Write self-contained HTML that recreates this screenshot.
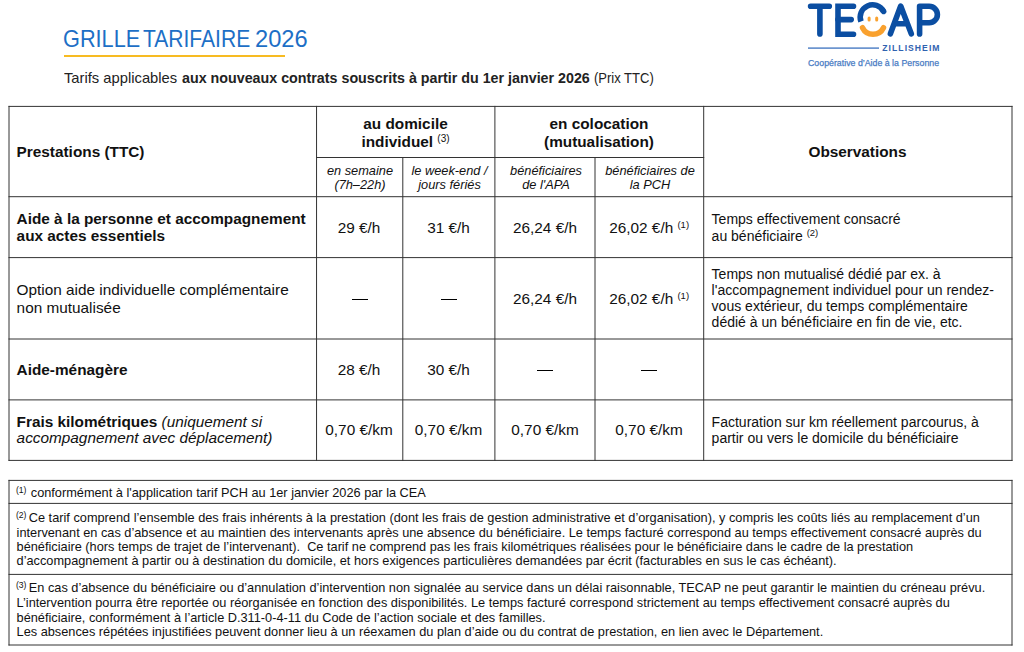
<!DOCTYPE html>
<html><head><meta charset="utf-8"><title>Grille tarifaire 2026</title>
<style>
html,body{margin:0;padding:0;background:#fff;}
body{width:1024px;height:652px;position:relative;overflow:hidden;font-family:"Liberation Sans",sans-serif;color:#111;}
.t{position:absolute;white-space:nowrap;}
.l{position:absolute;}
.b{font-weight:bold;}
.i{font-style:italic;}
.title{color:#1d6fc6;}
.sub{color:#222;}
sup{font-size:9.5px;vertical-align:0;position:relative;top:-5px;line-height:0;}
sup.fs{font-size:8.6px;top:-4px;margin-left:-0.7px;margin-right:-1.2px;}
</style></head><body>
<div class="t title" style="left:62.69px;top:27.00px;font-size:24.3px;line-height:24.3px;transform:scaleX(0.893);transform-origin:0 0;">GRILLE</div>
<div class="t title" style="left:143.38px;top:27.00px;font-size:24.3px;line-height:24.3px;transform:scaleX(0.866);transform-origin:0 0;">TARIFAIRE</div>
<div class="t title" style="left:255.19px;top:27.00px;font-size:24.3px;line-height:24.3px;transform:scaleX(0.975);transform-origin:0 0;">2026</div>
<div class="l" style="left:63.6px;top:54.5px;width:221.7px;height:2px;background:#f7bb22"></div>
<div class="t sub" style="left:64.10px;top:71.00px;font-size:14.4px;line-height:14.4px;transform:scaleX(1.025);transform-origin:0 0;">Tarifs applicables</div>
<div class="t sub b" style="left:181.70px;top:71.00px;font-size:14.4px;line-height:14.4px;transform:scaleX(0.992);transform-origin:0 0;">aux nouveaux contrats souscrits à partir du 1er janvier 2026</div>
<div class="t sub" style="left:594.40px;top:71.00px;font-size:14.4px;line-height:14.4px;transform:scaleX(0.904);transform-origin:0 0;">(Prix TTC)</div>
<svg width="1024" height="652" style="position:absolute;left:0;top:0" stroke="#333" stroke-width="1" fill="none"><line x1="8.5" y1="106.4" x2="1012.5" y2="106.4"/><line x1="8.5" y1="196.7" x2="1012.5" y2="196.7"/><line x1="8.5" y1="257.6" x2="1012.5" y2="257.6"/><line x1="8.5" y1="339.0" x2="1012.5" y2="339.0"/><line x1="8.5" y1="399.9" x2="1012.5" y2="399.9"/><line x1="8.5" y1="460.4" x2="1012.5" y2="460.4"/><line x1="316.05" y1="157.5" x2="704.2" y2="157.5"/><line x1="9.0" y1="105.9" x2="9.0" y2="460.9"/><line x1="316.55" y1="105.9" x2="316.55" y2="460.9"/><line x1="494.9" y1="105.9" x2="494.9" y2="460.9"/><line x1="703.7" y1="105.9" x2="703.7" y2="460.9"/><line x1="1012.0" y1="105.9" x2="1012.0" y2="460.9"/><line x1="402.8" y1="157.0" x2="402.8" y2="460.9"/><line x1="595.0" y1="157.0" x2="595.0" y2="460.9"/><line x1="8.5" y1="480.4" x2="1012.5" y2="480.4"/><line x1="8.5" y1="503.4" x2="1012.5" y2="503.4"/><line x1="8.5" y1="574.4" x2="1012.5" y2="574.4"/><line x1="8.5" y1="645.0" x2="1012.5" y2="645.0"/><line x1="9.0" y1="479.9" x2="9.0" y2="645.5"/><line x1="1012.0" y1="479.9" x2="1012.0" y2="645.5"/></svg>
<div class="t b" style="left:16.60px;top:144.00px;font-size:15.35px;line-height:15.35px;">Prestations (TTC)</div>
<div class="t b" style="left:316.00px;top:116.00px;font-size:15.35px;line-height:15.35px;width:179.00px;text-align:center;">au domicile</div>
<div class="t b" style="left:316.00px;top:134.00px;font-size:15.35px;line-height:15.35px;width:179.00px;text-align:center;">individuel <sup style="font-weight:normal;font-size:10px">(3)</sup></div>
<div class="t b" style="left:495.00px;top:116.00px;font-size:15.35px;line-height:15.35px;width:208.00px;text-align:center;">en colocation</div>
<div class="t b" style="left:495.00px;top:134.00px;font-size:15.35px;line-height:15.35px;width:208.00px;text-align:center;">(mutualisation)</div>
<div class="t b" style="left:703.00px;top:144.00px;font-size:15.35px;line-height:15.35px;width:309.00px;text-align:center;">Observations</div>
<div class="t i" style="left:317.00px;top:165.00px;font-size:12.8px;line-height:12.8px;width:86.00px;text-align:center;">en semaine</div>
<div class="t i" style="left:317.00px;top:179.00px;font-size:12.8px;line-height:12.8px;width:86.00px;text-align:center;">(7h–22h)</div>
<div class="t i" style="left:403.00px;top:165.00px;font-size:12.8px;line-height:12.8px;width:93.00px;text-align:center;">le week-end /</div>
<div class="t i" style="left:403.00px;top:179.00px;font-size:12.8px;line-height:12.8px;width:93.00px;text-align:center;">jours fériés</div>
<div class="t i" style="left:496.00px;top:165.00px;font-size:12.8px;line-height:12.8px;width:100.00px;text-align:center;">bénéficiaires</div>
<div class="t i" style="left:496.00px;top:179.00px;font-size:12.8px;line-height:12.8px;width:100.00px;text-align:center;">de l'APA</div>
<div class="t i" style="left:596.00px;top:165.00px;font-size:12.8px;line-height:12.8px;width:108.00px;text-align:center;">bénéficiaires de</div>
<div class="t i" style="left:596.00px;top:179.00px;font-size:12.8px;line-height:12.8px;width:108.00px;text-align:center;">la PCH</div>
<div class="t b" style="left:16.60px;top:211.00px;font-size:15.35px;line-height:15.35px;">Aide à la personne et accompagnement</div>
<div class="t b" style="left:16.60px;top:228.00px;font-size:15.35px;line-height:15.35px;">aux actes essentiels</div>
<div class="t " style="left:316.00px;top:220.00px;font-size:15.35px;line-height:15.35px;width:86.00px;text-align:center;">29 €/h</div>
<div class="t " style="left:402.00px;top:220.00px;font-size:15.35px;line-height:15.35px;width:93.00px;text-align:center;">31 €/h</div>
<div class="t " style="left:495.00px;top:220.00px;font-size:15.35px;line-height:15.35px;width:100.00px;text-align:center;">26,24 €/h</div>
<div class="t " style="left:609.20px;top:220.00px;font-size:15.35px;line-height:15.35px;">26,02 €/h <sup>(1)</sup></div>
<div class="t " style="left:711.60px;top:212.00px;font-size:14.03px;line-height:14.03px;">Temps effectivement consacré</div>
<div class="t " style="left:711.60px;top:229.00px;font-size:14.03px;line-height:14.03px;">au bénéficiaire <sup>(2)</sup></div>
<div class="t " style="left:16.60px;top:282.00px;font-size:15.35px;line-height:15.35px;">Option aide individuelle complémentaire</div>
<div class="t " style="left:16.60px;top:300.00px;font-size:15.35px;line-height:15.35px;">non mutualisée</div>
<div class="l" style="left:351.70px;top:298.60px;width:16px;height:1.7px;background:#000"></div>
<div class="l" style="left:440.85px;top:298.60px;width:16px;height:1.7px;background:#000"></div>
<div class="t " style="left:495.00px;top:291.00px;font-size:15.35px;line-height:15.35px;width:100.00px;text-align:center;">26,24 €/h</div>
<div class="t " style="left:609.20px;top:291.00px;font-size:15.35px;line-height:15.35px;">26,02 €/h <sup>(1)</sup></div>
<div class="t " style="left:711.60px;top:267.00px;font-size:14.03px;line-height:14.03px;">Temps non mutualisé dédié par ex. à</div>
<div class="t " style="left:711.60px;top:283.00px;font-size:14.03px;line-height:14.03px;">l'accompagnement individuel pour un rendez-</div>
<div class="t " style="left:711.60px;top:299.00px;font-size:14.03px;line-height:14.03px;">vous extérieur, du temps complémentaire</div>
<div class="t " style="left:711.60px;top:315.00px;font-size:14.03px;line-height:14.03px;">dédié à un bénéficiaire en fin de vie, etc.</div>
<div class="t b" style="left:16.60px;top:362.00px;font-size:15.35px;line-height:15.35px;">Aide-ménagère</div>
<div class="t " style="left:316.00px;top:362.00px;font-size:15.35px;line-height:15.35px;width:86.00px;text-align:center;">28 €/h</div>
<div class="t " style="left:402.00px;top:362.00px;font-size:15.35px;line-height:15.35px;width:93.00px;text-align:center;">30 €/h</div>
<div class="l" style="left:536.95px;top:369.55px;width:16px;height:1.7px;background:#000"></div>
<div class="l" style="left:641.35px;top:369.55px;width:16px;height:1.7px;background:#000"></div>
<div class="t " style="left:16.60px;top:414.00px;font-size:15.35px;line-height:15.35px;"><b>Frais kilométriques</b> <i>(uniquement si</i></div>
<div class="t " style="left:16.60px;top:430.00px;font-size:15.35px;line-height:15.35px;"><i>accompagnement avec déplacement)</i></div>
<div class="t " style="left:316.00px;top:422.00px;font-size:15.35px;line-height:15.35px;width:86.00px;text-align:center;">0,70 €/km</div>
<div class="t " style="left:402.00px;top:422.00px;font-size:15.35px;line-height:15.35px;width:93.00px;text-align:center;">0,70 €/km</div>
<div class="t " style="left:495.00px;top:422.00px;font-size:15.35px;line-height:15.35px;width:100.00px;text-align:center;">0,70 €/km</div>
<div class="t " style="left:595.00px;top:422.00px;font-size:15.35px;line-height:15.35px;width:108.00px;text-align:center;">0,70 €/km</div>
<div class="t " style="left:711.60px;top:415.00px;font-size:14.03px;line-height:14.03px;">Facturation sur km réellement parcourus, à</div>
<div class="t " style="left:711.60px;top:431.00px;font-size:14.03px;line-height:14.03px;">partir ou vers le domicile du bénéficiaire</div>
<div class="t " style="left:16.60px;top:487.00px;font-size:12.75px;line-height:12.75px;"><sup class="fs" style="margin-right:0.8px">(1)</sup> conformément à l'application tarif PCH au 1er janvier 2026 par la CEA</div>
<div class="t " style="left:16.60px;top:512.00px;font-size:12.75px;line-height:12.75px;"><sup class="fs">(2)</sup> Ce tarif comprend l’ensemble des frais inhérents à la prestation (dont les frais de gestion administrative et d’organisation), y compris les coûts liés au remplacement d’un</div>
<div class="t " style="left:16.60px;top:527.00px;font-size:12.75px;line-height:12.75px;">intervenant en cas d’absence et au maintien des intervenants après une absence du bénéficiaire. Le temps facturé correspond au temps effectivement consacré auprès du</div>
<div class="t " style="left:16.60px;top:541.00px;font-size:12.75px;line-height:12.75px;">bénéficiaire (hors temps de trajet de l’intervenant).&nbsp; Ce tarif ne comprend pas les frais kilométriques réalisées pour le bénéficiaire dans le cadre de la prestation</div>
<div class="t " style="left:16.60px;top:555.00px;font-size:12.75px;line-height:12.75px;">d’accompagnement à partir ou à destination du domicile, et hors exigences particulières demandées par écrit (facturables en sus le cas échéant).</div>
<div class="t " style="left:16.60px;top:582.00px;font-size:12.75px;line-height:12.75px;"><sup class="fs">(3)</sup> En cas d’absence du bénéficiaire ou d’annulation d’intervention non signalée au service dans un délai raisonnable, TECAP ne peut garantir le maintien du créneau prévu.</div>
<div class="t " style="left:16.60px;top:597.00px;font-size:12.75px;line-height:12.75px;">L’intervention pourra être reportée ou réorganisée en fonction des disponibilités. Le temps facturé correspond strictement au temps effectivement consacré auprès du</div>
<div class="t " style="left:16.60px;top:612.00px;font-size:12.75px;line-height:12.75px;">bénéficiaire, conformément à l’article D.311-0-4-11 du Code de l’action sociale et des familles.</div>
<div class="t " style="left:16.60px;top:626.00px;font-size:12.75px;line-height:12.75px;">Les absences répétées injustifiées peuvent donner lieu à un réexamen du plan d’aide ou du contrat de prestation, en lien avec le Département.</div>
<svg class="logo" width="1024" height="80" viewBox="0 0 1024 80" style="position:absolute;left:0;top:0">
<g fill="none" stroke="#0b4ea2" stroke-width="5.6" stroke-linecap="round" stroke-linejoin="round">
<path d="M810.6 6.3 H829.3 M819.9 6.3 V33.9"/>
<path d="M853.5 6.3 H838 V34.2 H853.5" stroke-linejoin="miter"/>
<path d="M838 19.6 H851.2"/>
<path d="M883.5 11.3 A12.4 12.4 0 0 0 861 21.6" stroke-linecap="butt"/>
<path d="M883.5 11.3 L883.6 11.4"/>
<path d="M890.4 33.8 L900.7 6.1 L911.3 33.8 M894.4 23.8 H907.4"/>
<path d="M919.6 33.9 V6.3 H929.2 A8.2 8.2 0 0 1 929.2 22.7 H920"/>
</g>
<path d="M862.5 27.7 A11.7 11.7 0 0 0 883.5 27.7" fill="none" stroke="#f9a12e" stroke-width="5.5" stroke-linecap="round"/>
<rect x="867.6" y="16.6" width="3" height="5" rx="1.5" fill="#f9a12e"/>
<rect x="875.2" y="16.6" width="3" height="5" rx="1.5" fill="#f9a12e"/>
<rect x="808" y="47.4" width="71" height="1.4" fill="#4a7cc4"/>
</svg>
<div class="t b" style="left:882.30px;top:44.00px;font-size:8.6px;line-height:8.6px;color:#2f62b0;letter-spacing:1.05px;">ZILLISHEIM</div>
<div class="t " style="left:808.00px;top:59.00px;font-size:8.8px;line-height:8.8px;color:#4a7cc4;-webkit-text-stroke:0.25px #4a7cc4;">Coopérative d’Aide à la Personne</div>
</body></html>
